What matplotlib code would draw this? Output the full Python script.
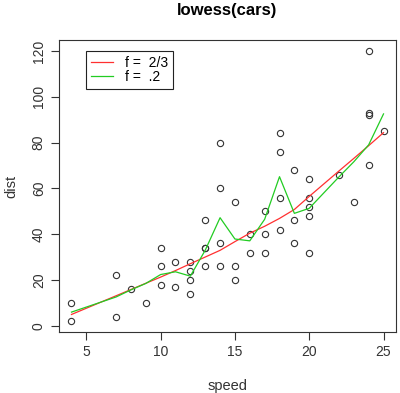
import matplotlib
matplotlib.use('Agg')
import matplotlib.pyplot as plt
from matplotlib.lines import Line2D

# cars data
speed = [4, 4, 7, 7, 8, 9, 10, 10, 10, 11, 11, 12, 12, 12, 12, 13, 13, 13, 13,
         14, 14, 14, 14, 15, 15, 15, 16, 16, 17, 17, 17, 18, 18, 18, 18, 19, 19,
         19, 20, 20, 20, 20, 20, 22, 23, 24, 24, 24, 24, 25]
dist = [2, 10, 4, 22, 16, 10, 18, 26, 34, 17, 28, 14, 20, 24, 28, 26, 34, 34, 46,
        26, 36, 60, 80, 20, 26, 54, 32, 40, 32, 40, 50, 42, 56, 76, 84, 36, 46,
        68, 32, 48, 52, 56, 64, 66, 54, 70, 92, 93, 120, 85]

# smoothed curves
fit_x = [4, 7, 8, 9, 10, 11, 12, 13, 14, 15, 16, 17, 18, 19, 20, 22, 23, 24, 25]
fit_23 = [4.97, 13.12, 15.86, 18.58, 21.28, 24.13, 27.12, 30.03, 32.96, 36.76,
          40.44, 43.46, 46.89, 50.79, 56.49, 67.59, 73.08, 78.64, 84.33]
fit_02 = [6.0, 12.6, 15.7, 18.5, 22.4, 23.6, 21.7, 33.0, 47.2, 37.9,
          37.1, 46.5, 65.1, 49.1, 51.3, 65.0, 71.6, 79.0, 92.5]

plt.rcParams['font.family'] = ['Liberation Sans', 'DejaVu Sans']

fig = plt.figure(figsize=(4.0, 3.93), dpi=100)
ax = fig.add_axes([0.1475, 0.155, 0.8425, 0.743])

ax.plot(speed, dist, 'o', mfc='none', mec='#333333', ms=4.5, mew=0.8)
ax.plot(fit_x, fit_23, color='#ff3030', lw=0.9)
ax.plot(fit_x, fit_02, color='#22cc22', lw=0.9)

ax.set_xlim(3.16, 25.84)
ax.set_ylim(-2.72, 124.72)
ax.set_xticks([5, 10, 15, 20, 25])
ax.set_yticks([0, 20, 40, 60, 80, 100, 120])
ax.tick_params(direction='out', length=6, width=0.8, labelsize=10, colors='#333333')
for lab in ax.get_yticklabels():
    lab.set_rotation(90)
    lab.set_va('center')
for s in ax.spines.values():
    s.set_color('#333333')
    s.set_linewidth(0.8)

ax.set_xlabel('speed', fontsize=10.5, labelpad=14, color='#333333')
ax.set_ylabel('dist', fontsize=10.5, labelpad=10, color='#333333')
ax.set_title('lowess(cars)', fontsize=12, fontweight='bold', pad=18)

handles = [Line2D([], [], color='#ff3030', lw=0.9),
           Line2D([], [], color='#22cc22', lw=0.9)]
leg = ax.legend(handles, ['f =  2/3', 'f =  .2'], loc='upper left',
                bbox_to_anchor=(5, 120), bbox_transform=ax.transData,
                borderaxespad=0, fancybox=False, framealpha=1,
                edgecolor='#222222', fontsize=10, handlelength=1.6,
                labelspacing=0.0, borderpad=0.35, handletextpad=0.8)
leg.get_frame().set_linewidth(0.8)

fig.savefig('out.png', dpi=100)
